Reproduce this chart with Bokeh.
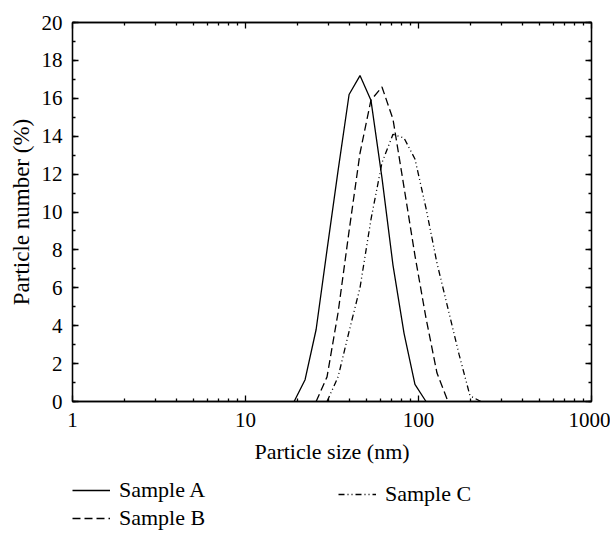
from bokeh.plotting import figure
from bokeh.layouts import column
from bokeh.models import (Range1d, LogAxis, LinearAxis, FixedTicker,
                          SingleIntervalTicker, Legend, LegendItem, BasicTickFormatter)
from bokeh.embed import file_html
from bokeh.resources import INLINE

# Size bins (nm)
a_size = [19.1, 22.1, 25.6, 29.6, 34.3, 39.7, 45.9, 53.1, 61.5, 71.2, 82.5, 95.4, 110.5]
a_vals = [0.0, 1.15, 3.8, 8.0, 12.2, 16.2, 17.2, 15.9, 11.8, 7.2, 3.6, 0.9, 0.0]

b_size = [25.6, 29.6, 34.3, 39.7, 45.9, 53.1, 61.5, 71.2, 82.5, 95.4, 110.5, 127.9, 148.1]
b_vals = [0.0, 1.3, 4.7, 9.0, 13.1, 15.9, 16.6, 14.9, 11.3, 7.7, 4.4, 1.5, 0.0]

c_size = [29.6, 34.3, 39.7, 45.9, 53.1, 61.5, 71.2, 82.5, 95.4, 110.5, 127.9, 148.1, 171.4, 198.5, 229.8]
c_vals = [0.0, 1.3, 3.7, 6.0, 9.6, 12.6, 14.1, 13.9, 12.8, 10.2, 7.3, 4.9, 2.5, 0.3, 0.0]

series_names = ["Sample A", "Sample B", "Sample C"]

x_major = [1, 10, 100, 1000]
x_minor = [2, 3, 4, 5, 6, 7, 8, 9, 20, 30, 40, 50, 60, 70, 80, 90,
           200, 300, 400, 500, 600, 700, 800, 900]

FONT = "Liberation Serif"
TICK_FS = "21px"
TITLE_FS = "22px"
LEG_FS = "22px"
LW = 1.3
DASH_B = "8 4"
DASH_C = "6 3 1 3 1 3"
NAN = float("nan")

p = figure(width=610, height=478, x_axis_type="log",
           x_range=Range1d(1, 1000), y_range=Range1d(0, 20),
           output_backend="svg", toolbar_location=None,
           min_border_left=72, min_border_right=19,
           min_border_top=22, min_border_bottom=77)
p.grid.visible = False
p.outline_line_color = "black"
p.outline_line_width = 1.3

p.line(a_size, a_vals, line_color="black", line_width=LW)
p.line(b_size, b_vals, line_color="black", line_width=LW, line_dash=DASH_B)
p.line(c_size, c_vals, line_color="black", line_width=LW, line_dash=DASH_C)

def style(ax, labels=True):
    ax.axis_line_color = "black"
    ax.axis_line_width = 1.3
    ax.major_tick_in = 6
    ax.major_tick_out = 0
    ax.minor_tick_in = 3
    ax.minor_tick_out = 0
    ax.major_tick_line_color = "black"
    ax.minor_tick_line_color = "black"
    ax.major_tick_line_width = 1.3
    ax.minor_tick_line_width = 1.3
    ax.major_label_text_font = FONT
    ax.major_label_text_font_size = TICK_FS if labels else "1px"
    ax.major_label_text_color = "black" if labels else None
    ax.axis_label_text_font = FONT
    ax.axis_label_text_font_size = TITLE_FS
    ax.axis_label_text_font_style = "normal"
    ax.axis_label_text_color = "black"

p.xaxis.ticker = FixedTicker(ticks=x_major, minor_ticks=x_minor)
p.xaxis.formatter = BasicTickFormatter()
p.xaxis.axis_label = "Particle size (nm)"
p.xaxis.axis_label_standoff = 9
p.xaxis.major_label_standoff = 11
p.yaxis.ticker = SingleIntervalTicker(interval=2, num_minor_ticks=2)
p.yaxis.axis_label = "Particle number (%)"
p.yaxis.axis_label_standoff = 5
p.yaxis.major_label_standoff = 10
style(p.xaxis[0])
style(p.yaxis[0])
p.yaxis.axis_label_text_font_size = "23px"

top = LogAxis(ticker=FixedTicker(ticks=x_major, minor_ticks=x_minor),
              formatter=BasicTickFormatter())
style(top, labels=False)
top.major_label_standoff = 0
p.add_layout(top, "above")
right = LinearAxis(ticker=SingleIntervalTicker(interval=2, num_minor_ticks=2))
style(right, labels=False)
right.major_label_standoff = 0
p.add_layout(right, "right")

# Legend strip below the chart (its frame is aligned with the chart's frame)
q = figure(width=610, height=55, x_range=Range1d(0, 1), y_range=Range1d(0, 1),
           output_backend="svg", toolbar_location=None,
           x_axis_location=None, y_axis_location=None,
           min_border_left=0, min_border_right=0, min_border_top=0, min_border_bottom=0)
q.grid.visible = False
q.outline_line_color = None
la = q.line([NAN, NAN], [NAN, NAN], line_color="black", line_width=LW)
lb = q.line([NAN, NAN], [NAN, NAN], line_color="black", line_width=LW, line_dash=DASH_B)
lc = q.line([NAN, NAN], [NAN, NAN], line_color="black", line_width=LW, line_dash=DASH_C)

def make_legend(items, loc):
    lg = Legend(items=items, location=loc, orientation="vertical")
    lg.label_text_font = FONT
    lg.label_text_font_size = LEG_FS
    lg.label_text_color = "black"
    lg.glyph_width = 38
    lg.glyph_height = 22
    lg.label_height = 22
    lg.label_standoff = 9
    lg.spacing = 2
    lg.padding = 0
    lg.margin = 0
    lg.border_line_color = None
    lg.background_fill_alpha = 0
    return lg

q.add_layout(make_legend([LegendItem(label=series_names[0], renderers=[la]),
                          LegendItem(label=series_names[1], renderers=[lb])], (0, 2)))
q.add_layout(make_legend([LegendItem(label=series_names[2], renderers=[lc])], (266, 26)))

open("out.html", "w").write(file_html(column(p, q), INLINE))
